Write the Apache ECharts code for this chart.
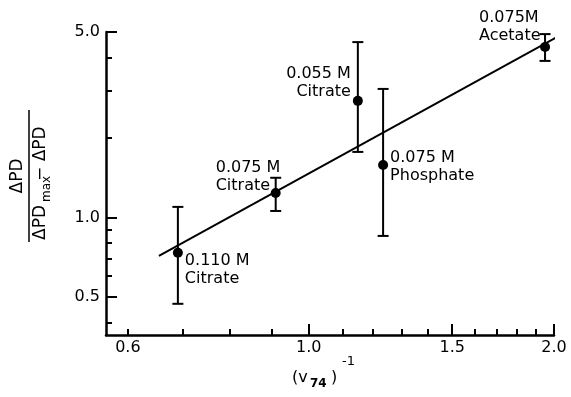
<!DOCTYPE html>
<html>
<head>
<meta charset="utf-8">
<script src="https://cdn.jsdelivr.net/npm/echarts@6/dist/echarts.min.js"></script>
<style>
  html, body { margin: 0; padding: 0; background: #fff; }
  #chart { width: 571px; height: 397px; }
</style>
</head>
<body>
<div id="chart"></div>
<script type="text/javascript">
// data (log-log)
var names = ['0.110 M\nCitrate', '0.075 M\nCitrate', '0.055 M\nCitrate', '0.075 M\nPhosphate', '0.075M\nAcetate'];
var xVals = [0.691, 0.911, 1.149, 1.234, 1.95];
var yVals = [0.735, 1.236, 2.75, 1.576, 4.39];
var yLow  = [0.472, 1.057, 1.765, 0.851, 3.89];
var yHigh = [1.095, 1.41, 4.58, 3.05, 4.91];
var fitX = [0.655, 2.017];
var fitY = [0.716, 4.79];

var xLabels = [0.6, 1.0, 1.5, 2.0];
var xMajor = [1.0, 1.5, 2.0];
var xMinor = [0.6, 0.7, 0.8, 0.9, 1.1, 1.2, 1.3, 1.4, 1.6, 1.7, 1.8, 1.9];
var yLabels = [0.5, 1.0, 5.0];
var yMajor = [0.5, 1.0, 5.0];
var yMinor = [0.4, 0.6, 0.7, 0.8, 0.9, 2.0, 3.0, 4.0];

// label placement for each point: [dx, dy, align]
var labelPos = [[7, 17, 'left'], [-60, -16, 'left'], [-7, -18, 'right'], [7, 2, 'left'], [-66, -20, 'left']];

var FONT = 'DejaVu Sans';
var myChart = echarts.init(document.getElementById('chart'), null, {renderer: 'canvas'});

var points = [], bars = [], fit = [];
for (var i = 0; i < xVals.length; i++) {
	points.push({
		value: [xVals[i], yVals[i]],
		label: {
			show: true, formatter: names[i], position: 'inside',
			offset: [labelPos[i][0], labelPos[i][1]], align: labelPos[i][2], verticalAlign: 'middle',
			color: '#000', opacity: 1, fontFamily: FONT, fontSize: 16, lineHeight: 18
		}
	});
	bars.push([xVals[i], yLow[i], yHigh[i]]);
}
for (var j = 0; j < fitX.length; j++) fit.push([fitX[j], fitY[j]]);

function logAxis(min, max, opts) {
	var a = {
		type: 'log', logBase: 10, min: min, max: max,
		splitLine: {show: false},
		axisLine: {show: opts.line, lineStyle: {color: '#000', width: 2.5}},
		axisTick: {show: true, inside: true, length: opts.tickLen, customValues: opts.ticks, lineStyle: {color: '#000', width: 2}},
		axisLabel: {show: !!opts.labels, customValues: opts.labels, margin: opts.margin || 6, color: '#000',
			fontFamily: FONT, fontSize: 16, formatter: function (v) { return Number(v).toFixed(1); }}
	};
	return a;
}

var xa0 = logAxis(0.564, 2.0, {line: true, tickLen: 11, ticks: xMajor, labels: xLabels, margin: 5});
var xa1 = logAxis(0.564, 2.0, {line: false, tickLen: 6, ticks: xMinor});
var ya0 = logAxis(0.36, 5.0, {line: true, tickLen: 11, ticks: yMajor, labels: yLabels, margin: 6});
var ya1 = logAxis(0.36, 5.0, {line: false, tickLen: 6, ticks: yMinor});
xa1.position = 'bottom';
ya1.position = 'left';

var black = {stroke: '#000', lineWidth: 2};

option = {
	animation: false,
	backgroundColor: '#fff',
	grid: {left: 106, right: 17, top: 32, bottom: 62},
	xAxis: [xa0, xa1],
	yAxis: [ya0, ya1],
	graphic: [
		{
			type: 'group', x: 29, y: 176, rotation: Math.PI / 2,
			children: [
				{type: 'line', shape: {x1: -66, y1: 0, x2: 66, y2: 0}, style: {stroke: '#000', lineWidth: 1.5}},
				{type: 'text', x: 0, y: -11, style: {text: 'ΔPD', font: '17px ' + FONT, fill: '#000', align: 'center', verticalAlign: 'middle'}},
				{type: 'text', x: -64, y: 12, style: {text: 'ΔPD', font: '17px ' + FONT, fill: '#000', align: 'left', verticalAlign: 'middle'}},
				{type: 'text', x: -26, y: 18, style: {text: 'max', font: '12px ' + FONT, fill: '#000', align: 'left', verticalAlign: 'middle'}},
				{type: 'text', x: -5, y: 12, style: {text: '− ΔPD', font: '17px ' + FONT, fill: '#000', align: 'left', verticalAlign: 'middle'}}
			]
		},
		{type: 'text', x: 292, y: 378, style: {text: '(v', font: '16px ' + FONT, fill: '#000', align: 'left', verticalAlign: 'middle'}},
		{type: 'text', x: 310, y: 384, style: {text: '74', font: 'bold 12px ' + FONT, fill: '#000', align: 'left', verticalAlign: 'middle'}},
		{type: 'text', x: 331, y: 378, style: {text: ')', font: '16px ' + FONT, fill: '#000', align: 'left', verticalAlign: 'middle'}},
		{type: 'text', x: 342, y: 362, style: {text: '-1', font: '13px ' + FONT, fill: '#000', align: 'left', verticalAlign: 'middle'}}
	],
	series: [
		{
			name: 'fit', type: 'line', data: fit, symbol: 'none', clip: false,
			lineStyle: {color: '#000', width: 2}
		},
		{
			name: 'err', type: 'custom', data: bars,
			encode: {x: 0, y: [1, 2]},
			renderItem: function (params, api) {
				var x = api.value(0);
				var top = api.coord([x, api.value(2)]);
				var bot = api.coord([x, api.value(1)]);
				var w = 5.5;
				return {
					type: 'group',
					children: [
						{type: 'line', shape: {x1: top[0], y1: top[1], x2: bot[0], y2: bot[1]}, style: black},
						{type: 'line', shape: {x1: top[0] - w, y1: top[1], x2: top[0] + w, y2: top[1]}, style: black},
						{type: 'line', shape: {x1: bot[0] - w, y1: bot[1], x2: bot[0] + w, y2: bot[1]}, style: black}
					]
				};
			}
		},
		{
			name: 'points', type: 'scatter', data: points, symbol: 'circle', symbolSize: 10,
			itemStyle: {color: '#000', opacity: 1}
		}
	]
};
myChart.setOption(option);
</script>
</body>
</html>
